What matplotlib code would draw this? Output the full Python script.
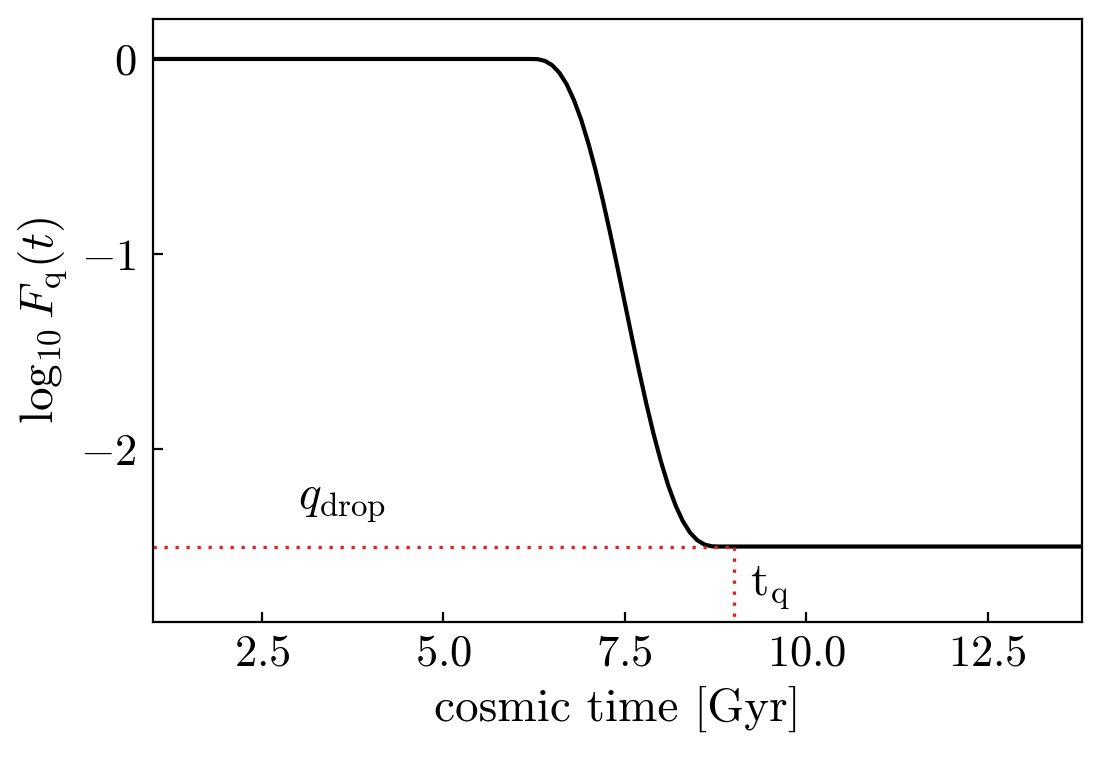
import matplotlib
matplotlib.use("Agg")
import matplotlib.pyplot as plt

plt.rcParams['font.family'] = 'serif'
plt.rcParams['font.serif'] = ['cmr10']
plt.rcParams['mathtext.fontset'] = 'cm'
plt.rcParams['axes.formatter.use_mathtext'] = True

# quenching curve
t_gyr = [1.0, 6.0, 6.2, 6.3, 6.4, 6.5, 6.6, 6.7, 6.8, 6.9, 7.0, 7.1, 7.2, 7.3, 7.4,
         7.5, 7.6, 7.7, 7.8, 7.9, 8.0, 8.1, 8.2, 8.3, 8.4, 8.5, 8.6, 8.7, 8.8, 9.0, 13.8]
log_fq = [0.0, 0.0, 0.0, -0.001, -0.010, -0.032, -0.071, -0.130, -0.211, -0.312, -0.434,
          -0.573, -0.728, -0.895, -1.070, -1.250, -1.430, -1.605, -1.772, -1.927, -2.066,
          -2.188, -2.289, -2.370, -2.429, -2.468, -2.490, -2.499, -2.5, -2.5, -2.5]

q_drop = -2.5
t_q = 9.0

fig = plt.figure(figsize=(5.51, 3.79), dpi=200)
ax = fig.add_axes([153/1102, 1 - 622/758, (1082 - 153)/1102, (622 - 19)/758])

ax.plot(t_gyr, log_fq, color='k', lw=1.5)
ax.plot([1.0, t_q], [q_drop, q_drop], color='#d62728', lw=1.2, ls=(0, (1, 2.3)))
ax.plot([t_q, t_q], [q_drop, -2.9], color='#d62728', lw=1.2, ls=(0, (1, 2.3)))

ax.text(3.0, -2.3, r'$q_{\rm drop}$', fontsize=17)
ax.text(9.22, -2.75, r'$\rm t_q$', fontsize=17)

ax.set_xlim(1.0, 13.8)
ax.set_ylim(-2.887, 0.205)
ax.set_xticks([2.5, 5.0, 7.5, 10.0, 12.5])
ax.set_yticks([0, -1, -2])
ax.tick_params(direction='in', labelsize=16)
ax.tick_params(axis='x', pad=4.5)
ax.tick_params(axis='y', pad=6)
ax.set_xlabel('cosmic time [Gyr]', fontsize=17)
ax.set_ylabel(r'$\log_{10}F_{\rm q}(t)$', fontsize=17)

plt.savefig('out.png', dpi=200)
